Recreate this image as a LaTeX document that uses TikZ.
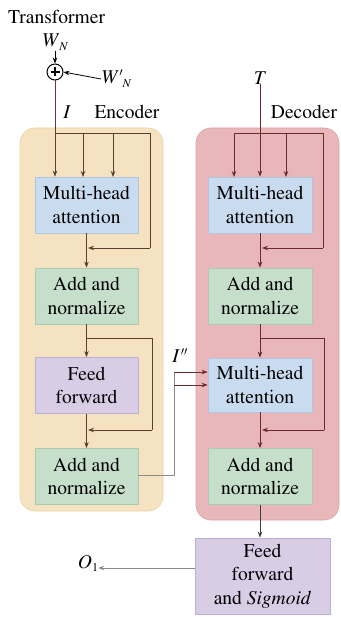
\documentclass[tikz,border=0pt]{standalone}
\usepackage[T1]{fontenc}
\usepackage{times}
\usetikzlibrary{arrows.meta}
\definecolor{encbg}{HTML}{F5E2C0}
\definecolor{encbd}{HTML}{EAD2A6}
\definecolor{decbg}{HTML}{E9B7BA}
\definecolor{decbd}{HTML}{DBA3A8}
\definecolor{mhafill}{HTML}{C9DCEF}
\definecolor{mhabd}{HTML}{AFC6E0}
\definecolor{anfill}{HTML}{C6DFCB}
\definecolor{anbd}{HTML}{A9CBB0}
\definecolor{fffill}{HTML}{D8CDE5}
\definecolor{ffbd}{HTML}{BDB0D6}
\definecolor{encline}{HTML}{5B4032}
\definecolor{decline}{HTML}{6B2A2E}
\definecolor{grayline}{HTML}{8A8A8A}
\tikzset{
  txt/.style={font=\fontsize{19.5}{23.5}\selectfont, inner sep=0pt},
  blk/.style={txt, align=center, minimum width=103pt, minimum height=56pt, line width=0.8pt},
  mha/.style={blk, fill=mhafill, draw=mhabd},
  an/.style={blk, fill=anfill, draw=anbd},
  ff/.style={blk, fill=fffill, draw=ffbd},
  tip/.style={-{Stealth[length=6pt,width=4.5pt]}},
  eln/.style={draw=encline, line width=0.8pt},
  dln/.style={draw=decline, line width=0.8pt},
  gln/.style={draw=grayline, line width=0.8pt},
}
\begin{document}
\begin{tikzpicture}[x=1pt,y=-1pt]
\useasboundingbox (0,0) rectangle (340,617);
% backgrounds
\draw[fill=encbg, draw=encbd, rounded corners=15pt, line width=0.6pt] (20,128) rectangle (163,511);
\draw[fill=decbg, draw=decbd, rounded corners=15pt, line width=0.6pt] (196,128) rectangle (339,520);
% labels
\node[txt, anchor=west] (title) at (8,17) {Transformer};
\node[txt] (wn) at (55,42) {\textit{W}\raisebox{-4pt}{\fontsize{12}{12}\selectfont\textit{N}}};
\node[txt, anchor=west] (wpn) at (101,79) {\textit{W}\kern0.5pt\raisebox{7pt}{\fontsize{13}{13}\selectfont$\prime$}\raisebox{-4pt}{\fontsize{12}{12}\selectfont\textit{N}}};
\node[draw=black, circle, line width=1pt, minimum size=16pt, inner sep=0pt] (plus) at (55,72) {};
\draw[line width=1.1pt] ([yshift=-4.5pt]plus.center) -- ([yshift=4.5pt]plus.center) ([xshift=-4.5pt]plus.center) -- ([xshift=4.5pt]plus.center);
\node[txt] (ilab) at (67,112) {\textit{I}};
\node[txt] (enclab) at (127,112) {Encoder};
\node[txt] (tlab) at (260,78) {\textit{T}};
\node[txt] (declab) at (304,112) {Decoder};
\node[txt] (ipp) at (180,356) {\textit{I}\kern1pt\raisebox{7pt}{\fontsize{13}{13}\selectfont$\prime\prime$}};
\node[txt] (o1) at (88,563) {\textit{O}\raisebox{-3pt}{\fontsize{12}{12}\selectfont 1}};
% encoder blocks
\node[mha] (emha) at (86.5,205) {Multi-head\\attention};
\node[an] (ean1) at (86.5,296) {Add and\\normalize};
\node[ff] (eff) at (86.5,385.5) {Feed\\forward};
\node[an] (ean2) at (86.5,476.5) {Add and\\normalize};
% decoder blocks
\node[mha, minimum width=104pt] (dmha) at (260,205) {Multi-head\\attention};
\node[an, minimum width=104pt] (dan1) at (260,296) {Add and\\normalize};
\node[mha, minimum width=104pt, minimum height=54pt] (dmha2) at (260,385) {Multi-head\\attention};
\node[an, minimum width=104pt] (dan2) at (260,476.5) {Add and\\normalize};
\node[ff, minimum width=135pt, minimum height=76pt] (fin) at (262.5,576) {Feed\\forward\\and \textit{Sigmoid}};
% coordinates
\coordinate (etr) at (150,133);
\coordinate (eres1) at (150,248);
\coordinate (ebr2) at (152,338);
\coordinate (eres2) at (152,430);
\coordinate (ivert) at (174,475);
\coordinate (dtr) at (323,133);
\coordinate (dres1) at (323,248);
\coordinate (dbr2) at (324,338);
\coordinate (dres2) at (324,430);
% top inputs
\draw[tip, line width=0.8pt] (wn.south) -- (plus.north);
\draw[tip, line width=0.8pt] (wpn.west) -- (plus.east);
% encoder connectors
\draw[eln, tip] (plus.south) -- (plus.south |- emha.north);
\draw[eln] (plus.south |- etr) -- (etr) -- (eres1);
\draw[eln, tip] (83,133) -- (83,177);
\draw[eln, tip] (113,133) -- (113,177);
\draw[eln, tip] (eres1) -- (88,248);
\draw[eln, tip] (emha.south) -- (ean1.north);
\draw[eln, tip] (ean1.south) -- (eff.north);
\draw[eln] (ean1.south |- ebr2) -- (ebr2) -- (eres2);
\draw[eln, tip] (eres2) -- (88,430);
\draw[eln, tip] (eff.south) -- (ean2.north);
% encoder to decoder
\draw[gln] (ean2.east |- ivert) -- (ivert) -- (174,372);
\draw[dln, tip] (174,372) -- (dmha2.west |- 0,372);
\draw[dln, tip] (174,385) -- (dmha2.west |- 0,385);
% decoder connectors
\draw[dln, tip] (tlab.south) -- (dmha.north);
\draw[dln] (234,133) -- (dtr) -- (dres1);
\draw[dln, tip] (234,133) -- (234,177);
\draw[dln, tip] (286,133) -- (286,177);
\draw[dln, tip] (dres1) -- (262,248);
\draw[dln, tip] (dmha.south) -- (dan1.north);
\draw[dln, tip] (dan1.south) -- (dmha2.north);
\draw[dln] (dan1.south |- dbr2) -- (dbr2) -- (dres2);
\draw[dln, tip] (dres2) -- (262,430);
\draw[dln, tip] (dmha2.south) -- (dan2.north);
\draw[line width=0.8pt, draw=black!75, tip] (dan2.south) -- (dan2.south |- fin.north);
\draw[gln, tip] (fin.west |- 0,568) -- (o1.east |- 0,568);
\end{tikzpicture}
\end{document}
